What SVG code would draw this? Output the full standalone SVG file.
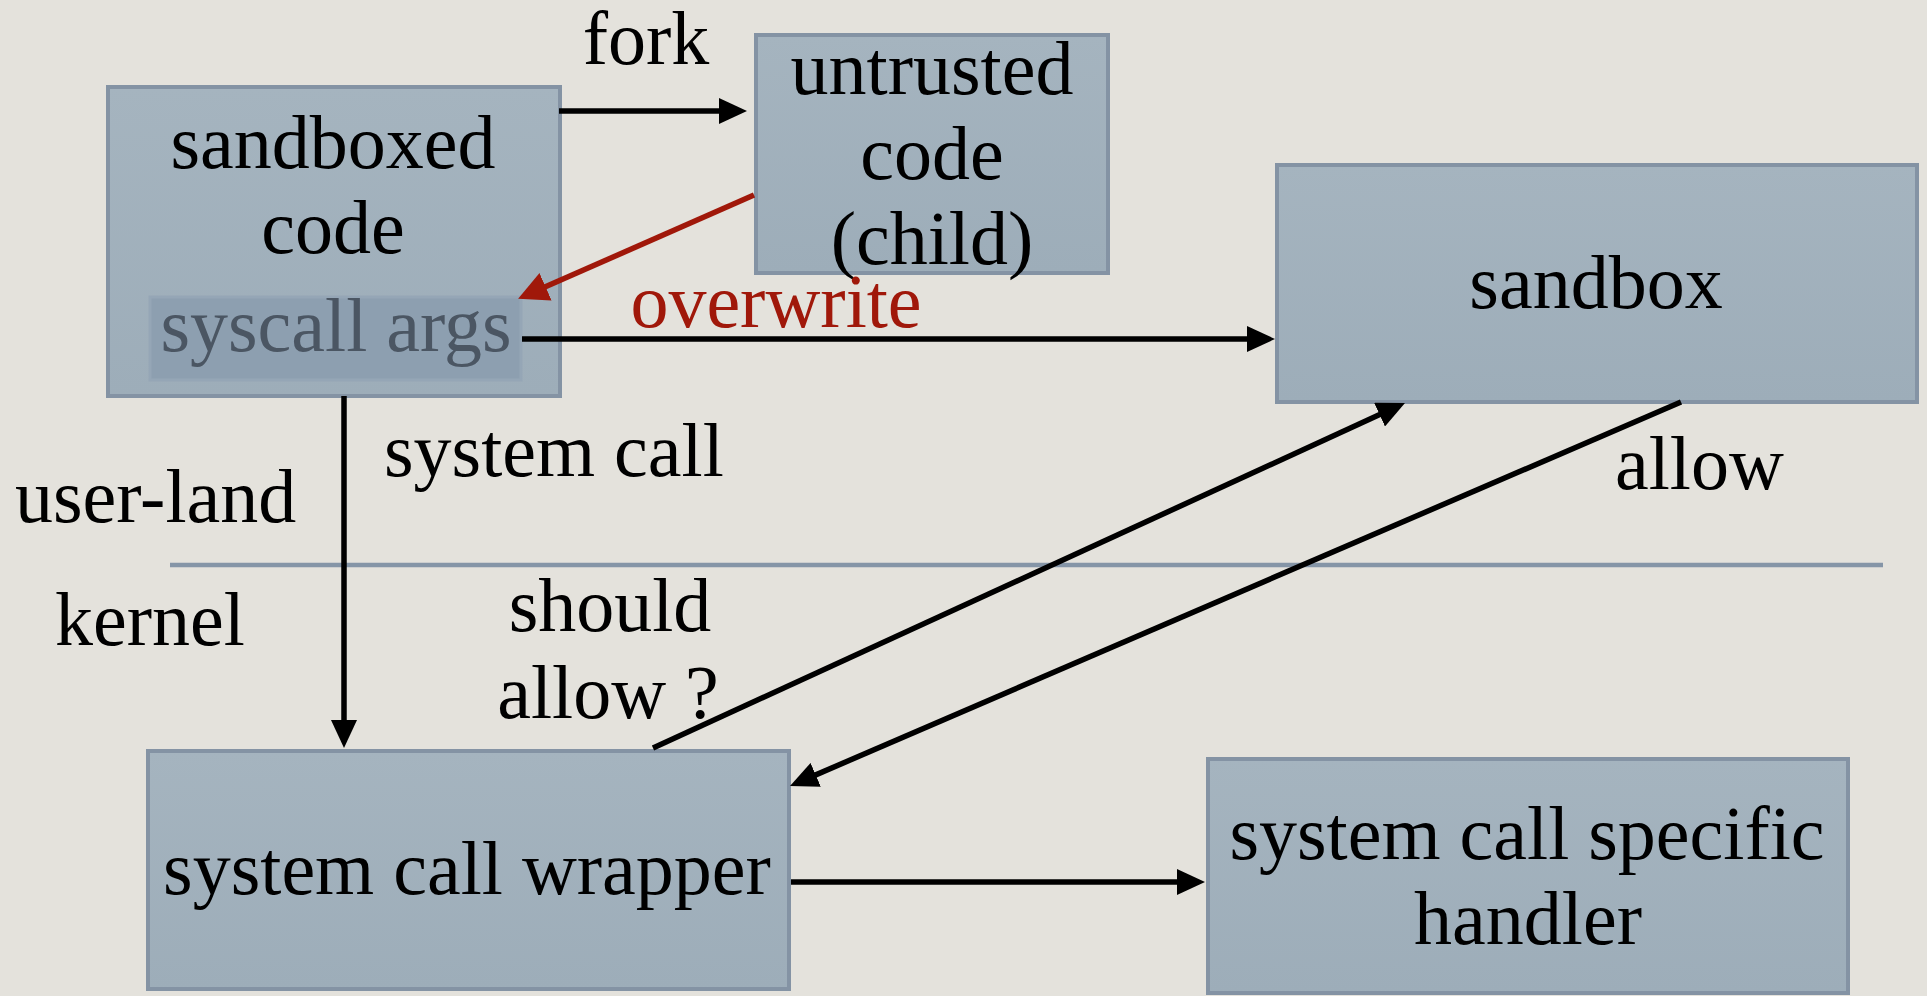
<svg xmlns="http://www.w3.org/2000/svg" width="1927" height="996" viewBox="0 0 1927 996">
<style>
.box{fill:url(#bf);stroke:#8493a4;stroke-width:4}
.inner{fill:#8d9fb0;stroke:#95a6b6;stroke-width:3}
.t{font-family:"Liberation Serif","Times New Roman",serif;font-size:76px;fill:#000}
.c{text-anchor:middle}
.conn{fill:none;stroke:#000;stroke-width:5.5}
.red{stroke:#a0180a}
</style>
<defs>
<linearGradient id="bf" x1="0" y1="0" x2="0" y2="1">
<stop offset="0" stop-color="#a5b4bf"/>
<stop offset="1" stop-color="#9dadb9"/>
</linearGradient>
<marker id="ah" markerUnits="userSpaceOnUse" markerWidth="30" markerHeight="26" refX="17" refY="13" orient="auto">
<path d="M0,0 L28,13 L0,26 z" fill="#000"/>
</marker>
<marker id="ahr" markerUnits="userSpaceOnUse" markerWidth="32" markerHeight="30" refX="17" refY="15" orient="auto">
<path d="M0,0 L30,15 L0,30 z" fill="#a0180a"/>
</marker>
</defs>
<rect width="1927" height="996" fill="#e4e2dc"/>
<line x1="170" y1="565" x2="1883" y2="565" stroke="#8595a7" stroke-width="4.5"/>

<g id="sandboxed-code">
<rect class="box" x="108" y="87" width="452" height="309"/>
<text class="t c" x="333" y="168">sandboxed</text>
<text class="t c" x="333" y="253">code</text>
</g>
<g id="syscall-args">
<rect class="inner" x="150" y="297" width="371" height="83"/>
<text class="t c" x="336" y="351" style="fill:#4b5663">syscall args</text>
</g>
<g id="untrusted-code">
<rect class="box" x="756" y="35" width="352" height="238"/>
<text class="t c" x="932" y="94">untrusted</text>
<text class="t c" x="932" y="179">code</text>
<text class="t c" x="932" y="264">(child)</text>
</g>
<g id="sandbox">
<rect class="box" x="1277" y="165" width="640" height="237"/>
<text class="t c" x="1596" y="308">sandbox</text>
</g>
<g id="wrapper">
<rect class="box" x="148" y="751" width="641" height="238"/>
<text class="t c" x="467" y="894">system call wrapper</text>
</g>
<g id="handler">
<rect class="box" x="1208" y="759" width="640" height="234"/>
<text class="t c" x="1527" y="859">system call specific</text>
<text class="t c" x="1528" y="944">handler</text>
</g>

<g id="connectors">
<line class="conn" x1="559" y1="111" x2="736" y2="111" marker-end="url(#ah)"/>
<line class="conn red" x1="754" y1="195" x2="530" y2="293.6" marker-end="url(#ahr)"/>
<line class="conn" x1="522" y1="339" x2="1264" y2="339" marker-end="url(#ah)"/>
<line class="conn" x1="344" y1="396" x2="344" y2="737" marker-end="url(#ah)"/>
<line class="conn" x1="653" y1="748" x2="1395" y2="407.6" marker-end="url(#ah)"/>
<line class="conn" x1="1681" y1="402" x2="800.1" y2="781.6" marker-end="url(#ah)"/>
<line class="conn" x1="791" y1="882" x2="1194" y2="882" marker-end="url(#ah)"/>
</g>

<g id="labels">
<text class="t c" x="646" y="64">fork</text>
<text class="t c" x="776" y="327" style="fill:#a0180a">overwrite</text>
<text class="t" x="384" y="476">system call</text>
<text class="t" x="15" y="522">user-land</text>
<text class="t" x="1615" y="489">allow</text>
<text class="t" x="55" y="645">kernel</text>
<text class="t c" x="610" y="631">should</text>
<text class="t c" x="608" y="718">allow ?</text>
</g>
</svg>
